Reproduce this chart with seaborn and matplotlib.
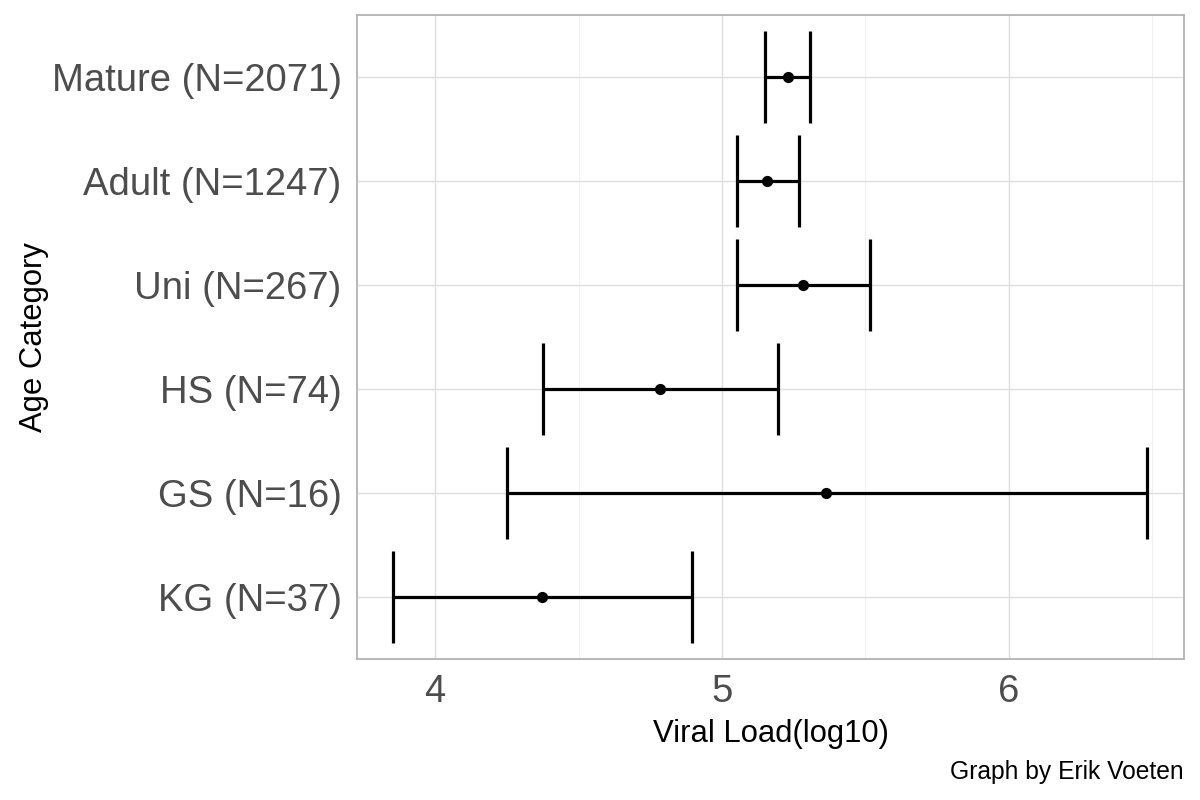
import matplotlib
matplotlib.use("Agg")
import matplotlib.pyplot as plt
import seaborn as sns
import pandas as pd
from matplotlib.ticker import MultipleLocator

# age groups, bottom to top
categories = ["KG (N=37)", "GS (N=16)", "HS (N=74)", "Uni (N=267)", "Adult (N=1247)", "Mature (N=2071)"]
mean_vl = [4.373, 5.362, 4.784, 5.282, 5.157, 5.230]
lower_ci = [3.854, 4.251, 4.376, 5.052, 5.052, 5.150]
upper_ci = [4.895, 6.481, 5.195, 5.516, 5.268, 5.307]

df = pd.DataFrame({"cat": categories, "mean": mean_vl, "lo": lower_ci, "hi": upper_ci})
df["pos"] = range(len(df))

sns.set_style("white")
plt.rcParams["font.family"] = ["Liberation Sans", "DejaVu Sans"]

fig = plt.figure(figsize=(12, 8), dpi=100)
ax = fig.add_axes([357/1200, 1 - 659/800, (1184-357)/1200, (659-15)/800])

ax.errorbar(df["mean"], df["pos"],
            xerr=[df["mean"] - df["lo"], df["hi"] - df["mean"]],
            fmt="none", ecolor="black", elinewidth=2.3, capsize=32.8, capthick=2.3, zorder=3)
sns.scatterplot(data=df, x="mean", y="pos", color="black", s=65, edgecolor="black", linewidth=0, ax=ax, zorder=4)

ax.set_xlim(3.728, 6.61)
ax.set_ylim(-0.6, 5.6)
ax.set_yticks(df["pos"])
ax.set_yticklabels(categories)
ax.xaxis.set_major_locator(MultipleLocator(1))
ax.xaxis.set_minor_locator(MultipleLocator(0.5))

ax.grid(which="major", color="#DEDEDE", linewidth=1.0)
ax.grid(which="minor", axis="x", color="#EEEEEE", linewidth=0.6)
ax.set_axisbelow(True)
for s in ax.spines.values():
    s.set_color("#B3B3B3")
    s.set_linewidth(1.3)

ax.tick_params(axis="both", which="major", length=5, width=1, color="#B3B3B3",
               labelsize=27.5, labelcolor="#4D4D4D", pad=6)
ax.tick_params(axis="x", which="minor", length=0)

ax.set_xlabel("Viral Load(log10)", fontsize=22.3, color="black", labelpad=6)
ax.set_ylabel("Age Category", fontsize=22.3, color="black", labelpad=2)

fig.text(1184/1200, 1 - 772/800, "Graph by Erik Voeten", ha="right", va="center", fontsize=17.7, color="black")

fig.savefig("out.png", dpi=100)
